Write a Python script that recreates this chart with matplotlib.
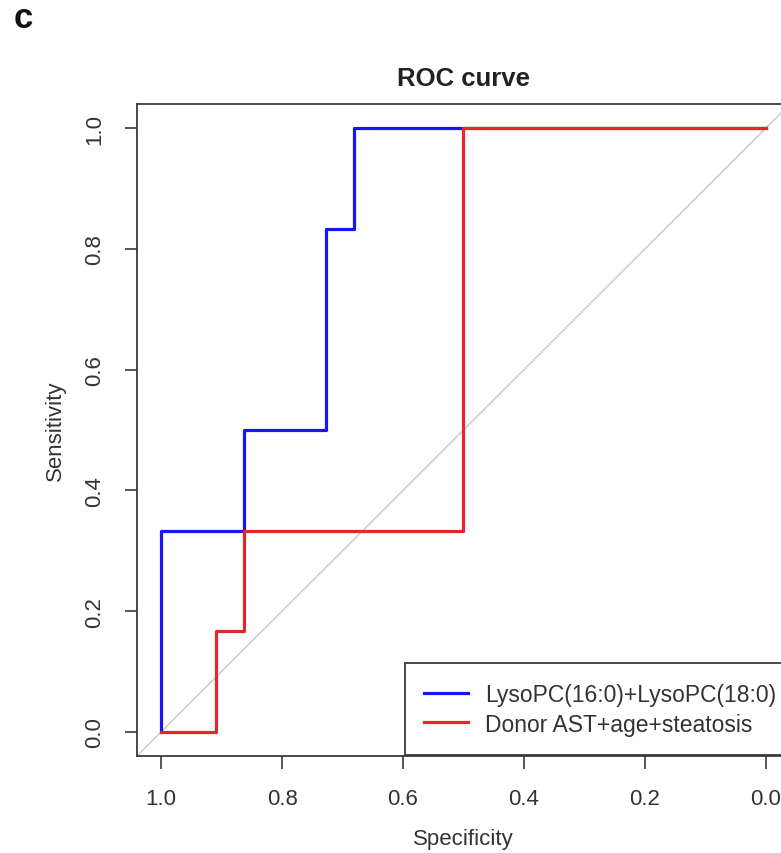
import numpy as np
import matplotlib.pyplot as plt

plt.rcParams['font.family'] = ['Liberation Sans', 'DejaVu Sans']

# ROC points (specificity, sensitivity)
lyso_spec = [1.0, 1.0, 19/22, 19/22, 16/22, 16/22, 15/22, 15/22, 0.0]
lyso_sens = [0.0, 2/6, 2/6, 3/6, 3/6, 5/6, 5/6, 1.0, 1.0]
donor_spec = [1.0, 20/22, 20/22, 19/22, 19/22, 11/22, 11/22, 0.0]
donor_sens = [0.0, 0.0, 1/6, 1/6, 2/6, 2/6, 1.0, 1.0]
labels = ['LysoPC(16:0)+LysoPC(18:0)', 'Donor AST+age+steatosis']
ticks = [1.0, 0.8, 0.6, 0.4, 0.2, 0.0]
tick_labels = ['1.0', '0.8', '0.6', '0.4', '0.2', '0.0']

W, H = 781, 854
fig = plt.figure(figsize=(W/100, H/100), dpi=100)
ax = fig.add_axes([137/W, 1 - 757/H, (790-137)/W, (757-105)/H])

ax.axline((1, 0), (0, 1), color='#c8c8c8', lw=1.0, zorder=1)
ax.plot(lyso_spec, lyso_sens, color='#1515f5', lw=2.3, label=labels[0], zorder=3)
ax.plot(donor_spec, donor_sens, color='#e5272d', lw=2.3, label=labels[1], zorder=4)

ax.set_xlim(1.04, -0.04)
ax.set_ylim(-0.04, 1.04)
ax.set_xticks(ticks)
ax.set_xticklabels(tick_labels)
ax.set_yticks(ticks)
ax.set_yticklabels(tick_labels, rotation=90, va='center')

for s in ax.spines.values():
    s.set_color('#3a3a3a')
    s.set_linewidth(1.3)
ax.tick_params(axis='both', length=9, width=1.2, color='#3a3a3a', labelsize=16, labelcolor='#333333')
ax.tick_params(axis='x', pad=14)
ax.tick_params(axis='y', pad=14)

ax.set_xlabel('Specificity', fontsize=16, color='#333333', labelpad=14)
ax.set_ylabel('Sensitivity', fontsize=16, color='#333333', labelpad=13)
ax.set_title('ROC curve', fontsize=18.5, fontweight='bold', pad=14, color='#222222')

leg = ax.legend(loc='lower left', bbox_to_anchor=(405/W, 1 - 756/H), bbox_transform=fig.transFigure,
                borderaxespad=0, fancybox=False, framealpha=1, edgecolor='#3a3a3a',
                fontsize=16.5, handlelength=1.9, handletextpad=0.75, borderpad=0.85, labelspacing=0.3)
leg.get_frame().set_linewidth(1.3)
for t in leg.get_texts():
    t.set_color('#333333')

fig.text(23/W, 1 - 19/H, 'c', fontsize=25, fontweight='bold', va='center', ha='center', color='#111111')

fig.savefig('out.png', dpi=100)
